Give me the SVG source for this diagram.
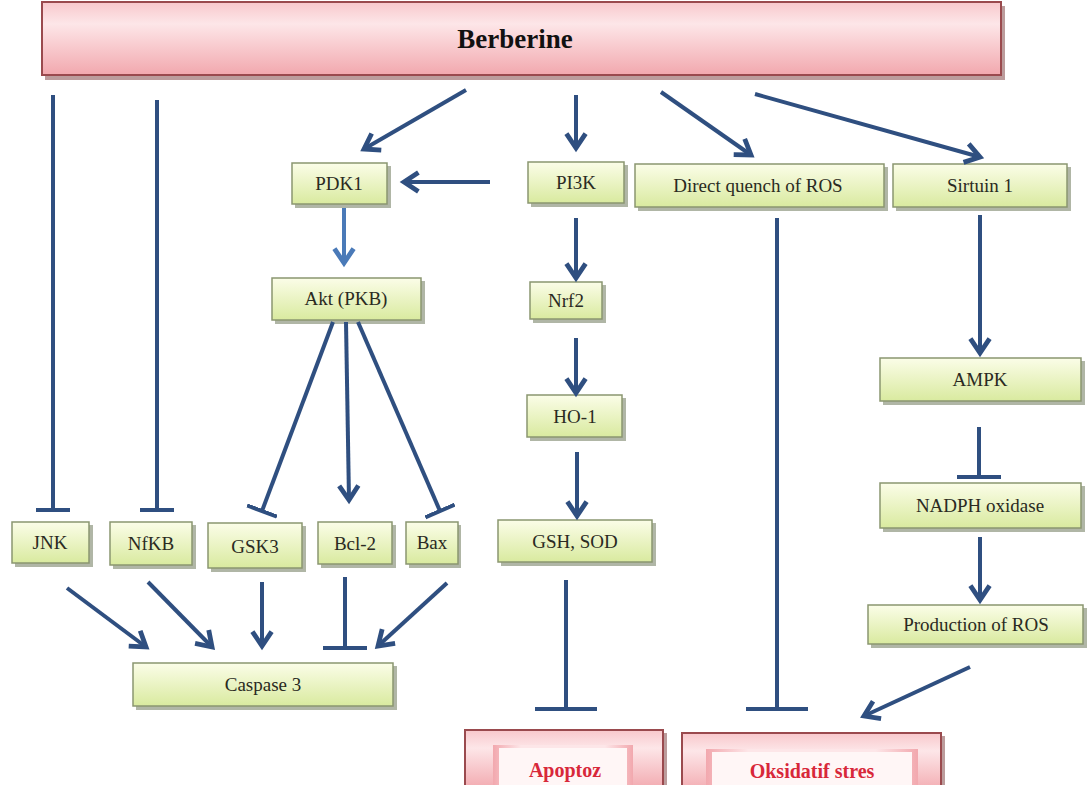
<svg xmlns="http://www.w3.org/2000/svg" width="1091" height="785" viewBox="0 0 1091 785">
<defs>
<linearGradient id="gG" x1="0" y1="0" x2="0" y2="1"><stop offset="0" stop-color="#fbfde8"/><stop offset="1" stop-color="#d9ea9f"/></linearGradient>
<linearGradient id="gP" x1="0" y1="0" x2="0" y2="1"><stop offset="0" stop-color="#f8c8cc"/><stop offset="0.3" stop-color="#fde6e8"/><stop offset="1" stop-color="#f2a8ae"/></linearGradient>
<linearGradient id="gP2" x1="0" y1="0" x2="1" y2="0"><stop offset="0" stop-color="#f2a8ae"/><stop offset="0.2" stop-color="#fde6e8"/><stop offset="0.8" stop-color="#fde6e8"/><stop offset="1" stop-color="#f2a8ae"/></linearGradient>
<marker id="arr" markerUnits="userSpaceOnUse" markerWidth="24" markerHeight="24" refX="16" refY="10" orient="auto" viewBox="0 0 20 20"><path d="M4,2 L16,10 L4,18" fill="none" stroke="#2f4f80" stroke-width="4"/></marker>
<marker id="arrL" markerUnits="userSpaceOnUse" markerWidth="24" markerHeight="24" refX="16" refY="10" orient="auto" viewBox="0 0 20 20"><path d="M4,2 L16,10 L4,18" fill="none" stroke="#4a7ab8" stroke-width="4"/></marker>
<marker id="bar" markerUnits="userSpaceOnUse" markerWidth="6" markerHeight="34" refX="2" refY="17" orient="auto" viewBox="0 0 6 34"><rect x="0" y="0" width="4" height="34" fill="#2f4f80"/></marker>
<marker id="barS" markerUnits="userSpaceOnUse" markerWidth="6" markerHeight="32" refX="2" refY="16" orient="auto" viewBox="0 0 6 32"><rect x="0" y="0" width="4" height="32" fill="#2f4f80"/></marker>
<marker id="barW" markerUnits="userSpaceOnUse" markerWidth="6" markerHeight="44" refX="2" refY="22" orient="auto" viewBox="0 0 6 44"><rect x="0" y="0" width="4" height="44" fill="#2f4f80"/></marker>
<marker id="barX" markerUnits="userSpaceOnUse" markerWidth="6" markerHeight="62" refX="2" refY="31" orient="auto" viewBox="0 0 6 62"><rect x="0" y="0" width="4" height="62" fill="#2f4f80"/></marker>
</defs>
<style>
.box{fill:url(#gG);stroke:#8a9670;stroke-width:1.5}
.sh{fill:#6f7a5c;opacity:0.55}
.t{font-family:"Liberation Serif",serif;font-size:19px;fill:#2a2a22;text-anchor:middle}
.ln{stroke:#2f4f80;stroke-width:4;fill:none}
.a{marker-end:url(#arr)}
.b{marker-end:url(#bar)}
.bs{marker-end:url(#barS)}
.rt{font-family:"Liberation Serif",serif;font-size:20px;font-weight:bold;fill:#d8283a;text-anchor:middle}
</style>
<rect width="1091" height="785" fill="#ffffff"/>
<g id="berberine">
<rect x="45" y="6" width="960" height="74" fill="#7a3a3a" opacity="0.5"/>
<rect x="42" y="2" width="959" height="73" fill="url(#gP)" stroke="#9a4a4e" stroke-width="2"/>
<text x="515" y="48" font-family="Liberation Serif,serif" font-size="27" font-weight="bold" fill="#111" text-anchor="middle">Berberine</text>
</g>
<g id="pdk1"><rect class="sh" x="295" y="166" width="96" height="42"/><rect class="box" x="292" y="163" width="95" height="41"/><text class="t" x="339" y="190">PDK1</text></g>
<g id="pi3k"><rect class="sh" x="531" y="165" width="97" height="42"/><rect class="box" x="528" y="162" width="96" height="41"/><text class="t" x="576" y="189">PI3K</text></g>
<g id="quench"><rect class="sh" x="638" y="167" width="250" height="44"/><rect class="box" x="635" y="164" width="249" height="43"/><text class="t" x="758" y="192">Direct quench of ROS</text></g>
<g id="sirtuin"><rect class="sh" x="896" y="167" width="175" height="44"/><rect class="box" x="893" y="164" width="174" height="43"/><text class="t" x="980" y="192">Sirtuin 1</text></g>
<g id="akt"><rect class="sh" x="275" y="281" width="150" height="43"/><rect class="box" x="272" y="278" width="149" height="42"/><text class="t" x="346" y="305">Akt (PKB)</text></g>
<g id="nrf2"><rect class="sh" x="533" y="285" width="73" height="38"/><rect class="box" x="530" y="282" width="72" height="37"/><text class="t" x="566" y="307">Nrf2</text></g>
<g id="ho1"><rect class="sh" x="530" y="398" width="96" height="43"/><rect class="box" x="527" y="395" width="95" height="42"/><text class="t" x="575" y="423">HO-1</text></g>
<g id="ampk"><rect class="sh" x="883" y="361" width="202" height="44"/><rect class="box" x="880" y="358" width="201" height="43"/><text class="t" x="980" y="386">AMPK</text></g>
<g id="nadph"><rect class="sh" x="883" y="486" width="202" height="46"/><rect class="box" x="880" y="483" width="201" height="45"/><text class="t" x="980" y="512">NADPH oxidase</text></g>
<g id="prodros"><rect class="sh" x="871" y="608" width="216" height="40"/><rect class="box" x="868" y="605" width="215" height="39"/><text class="t" x="976" y="631">Production of ROS</text></g>
<g id="jnk"><rect class="sh" x="15" y="525" width="78" height="42"/><rect class="box" x="12" y="522" width="77" height="41"/><text class="t" x="50" y="549">JNK</text></g>
<g id="nfkb"><rect class="sh" x="113" y="525" width="83" height="44"/><rect class="box" x="110" y="522" width="82" height="43"/><text class="t" x="151" y="550">NfKB</text></g>
<g id="gsk3"><rect class="sh" x="211" y="526" width="95" height="46"/><rect class="box" x="208" y="523" width="94" height="45"/><text class="t" x="255" y="553">GSK3</text></g>
<g id="bcl2"><rect class="sh" x="321" y="525" width="75" height="43"/><rect class="box" x="318" y="522" width="74" height="42"/><text class="t" x="355" y="550">Bcl-2</text></g>
<g id="bax"><rect class="sh" x="409" y="525" width="52" height="43"/><rect class="box" x="406" y="522" width="52" height="42"/><text class="t" x="432" y="549">Bax</text></g>
<g id="gshsod"><rect class="sh" x="501" y="523" width="155" height="43"/><rect class="box" x="498" y="520" width="154" height="42"/><text class="t" x="575" y="548">GSH, SOD</text></g>
<g id="caspase3"><rect class="sh" x="136" y="666" width="261" height="44"/><rect class="box" x="133" y="663" width="260" height="43"/><text class="t" x="263" y="691">Caspase 3</text></g>
<g id="apoptoz">
<rect x="468" y="733" width="199" height="60" fill="#7a3a3a" opacity="0.5"/>
<rect x="465" y="730" width="198" height="60" fill="url(#gP)" stroke="#9a4a4e" stroke-width="2"/>
<rect x="493" y="745" width="140" height="45" fill="url(#gP2)"/>
<rect x="499" y="748" width="128" height="40" fill="#fff6f6"/>
<text class="rt" x="565" y="777">Apoptoz</text>
</g>
<g id="oksidatif">
<rect x="685" y="736" width="260" height="60" fill="#7a3a3a" opacity="0.5"/>
<rect x="682" y="733" width="259" height="60" fill="url(#gP)" stroke="#9a4a4e" stroke-width="2"/>
<rect x="706" y="749" width="212" height="45" fill="url(#gP2)"/>
<rect x="712" y="752" width="200" height="40" fill="#fff6f6"/>
<text class="rt" x="812" y="778">Oksidatif stres</text>
</g>
<g id="connectors">
<line class="ln b" x1="53" y1="95" x2="53" y2="510"/>
<line class="ln b" x1="157" y1="100" x2="157" y2="510"/>
<line class="ln a" x1="466" y1="90" x2="364" y2="149"/>
<line class="ln a" x1="576" y1="95" x2="576" y2="148"/>
<line class="ln a" x1="661" y1="92" x2="751" y2="155"/>
<line class="ln a" x1="755" y1="94" x2="980" y2="157"/>
<line class="ln a" x1="490" y1="182" x2="404" y2="182"/>
<line class="ln" style="stroke:#4a7ab8;marker-end:url(#arrL)" x1="344" y1="208" x2="344" y2="263"/>
<line class="ln a" x1="576" y1="218" x2="576" y2="278"/>
<line class="ln a" x1="576" y1="338" x2="576" y2="393"/>
<line class="ln a" x1="577" y1="452" x2="577" y2="516"/>
<line class="ln" style="marker-end:url(#barX)" x1="566" y1="580" x2="566" y2="709"/>
<line class="ln" style="marker-end:url(#barX)" x1="777" y1="218" x2="777" y2="709"/>
<line class="ln a" x1="980" y1="215" x2="980" y2="353"/>
<line class="ln" style="marker-end:url(#barW)" x1="979" y1="427" x2="979" y2="477"/>
<line class="ln a" x1="980" y1="537" x2="980" y2="600"/>
<line class="ln a" x1="970" y1="667" x2="864" y2="716"/>
<line class="ln bs" x1="333" y1="322" x2="262" y2="511"/>
<line class="ln a" x1="346" y1="322" x2="349" y2="500"/>
<line class="ln bs" x1="358" y1="322" x2="440" y2="511"/>
<line class="ln a" x1="67" y1="588" x2="146" y2="647"/>
<line class="ln a" x1="148" y1="582" x2="212" y2="647"/>
<line class="ln a" x1="262" y1="582" x2="262" y2="646"/>
<line class="ln" style="marker-end:url(#barW)" x1="345" y1="577" x2="345" y2="648"/>
<line class="ln a" x1="447" y1="583" x2="378" y2="646"/>
</g>
</svg>
